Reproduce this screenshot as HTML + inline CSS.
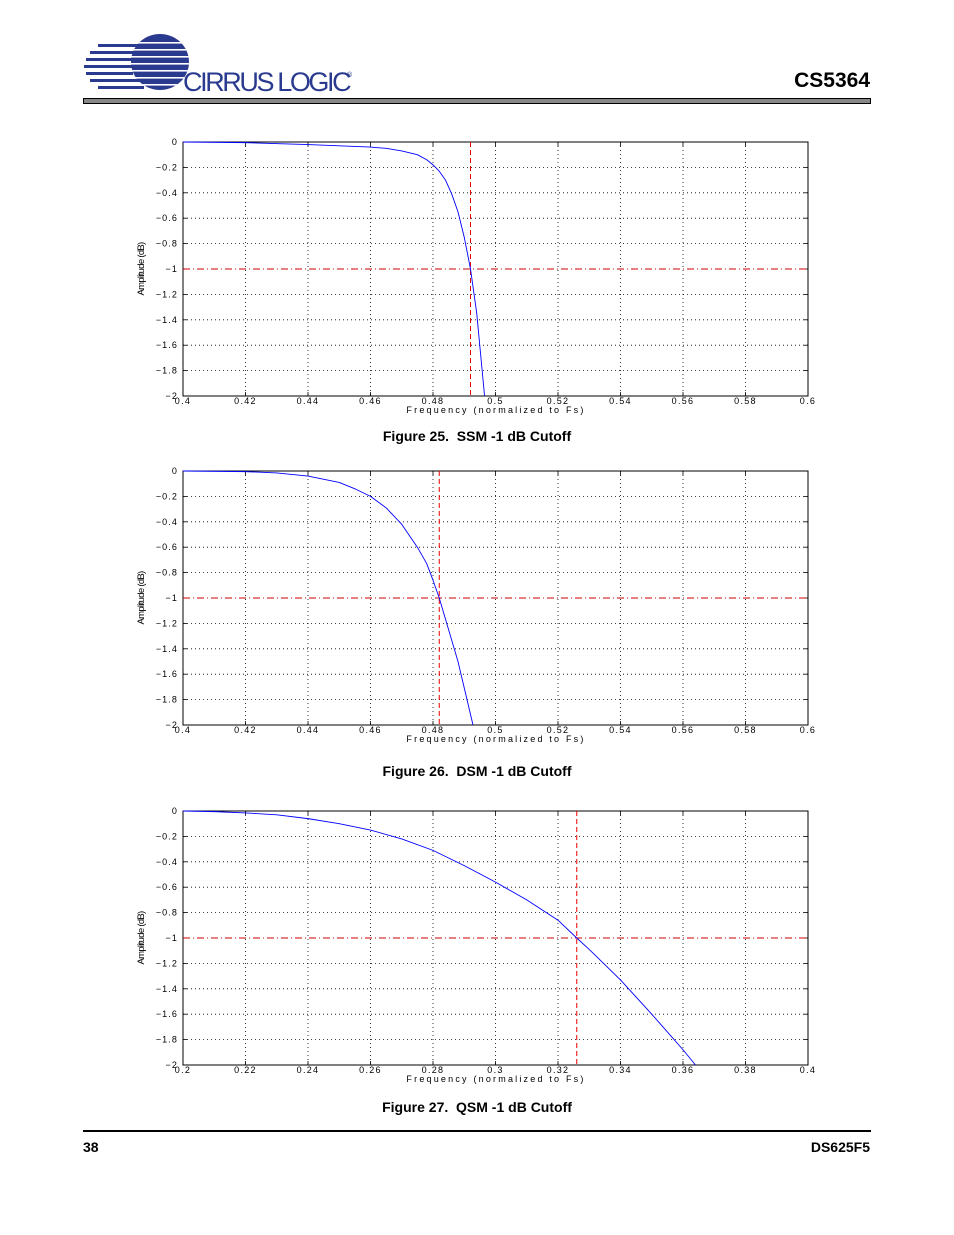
<!DOCTYPE html>
<html><head><meta charset="utf-8">
<style>
html,body{margin:0;padding:0;background:#fff;}
body{width:954px;height:1235px;position:relative;overflow:hidden;font-family:"Liberation Sans",Arial,sans-serif;}
.abs{position:absolute;}
.cap{position:absolute;left:0;width:954px;text-align:center;font-weight:bold;font-size:14px;color:#000;}
</style></head>
<body>
<div class="abs" style="left:84px;top:32px;width:280px;height:64px;">
<svg width="280" height="64">
 <defs><clipPath id="gc"><ellipse cx="76" cy="30" rx="29" ry="28"/></clipPath></defs>
 <ellipse cx="76" cy="30" rx="29" ry="28" fill="#2a3b8f"/>
 <g fill="#fff" clip-path="url(#gc)">
  <rect x="0" y="10" width="110" height="1.6"/><rect x="0" y="17" width="110" height="1.6"/>
  <rect x="0" y="24" width="110" height="1.6"/><rect x="0" y="31" width="110" height="1.6"/>
  <rect x="0" y="38" width="110" height="1.6"/><rect x="0" y="45" width="110" height="1.6"/>
  <rect x="0" y="52" width="110" height="1.6"/>
 </g>
 <g fill="#2a3b8f">
  <rect x="14" y="12" width="40" height="3"/><rect x="6" y="19" width="45" height="3"/>
  <rect x="2" y="26" width="47" height="3"/><rect x="0" y="33" width="48" height="3"/>
  <rect x="2" y="40" width="47" height="3"/><rect x="6" y="47" width="50" height="3"/>
  <rect x="14" y="54" width="46" height="3"/>
 </g>
 <text x="99" y="59" font-size="27" fill="#2a3b8f" font-family="Liberation Sans, sans-serif" letter-spacing="-2.4">CIRRUS LOGIC</text>
 <text x="263" y="45" font-size="7" fill="#2a3b8f">®</text>
</svg></div>
<div class="abs" style="right:84px;top:69px;font-size:21px;font-weight:bold;">CS5364</div>
<div class="abs" style="left:83px;top:98px;width:786px;height:4px;background:#888;border:1px solid #000;"></div>
<div class="abs" style="left:83px;top:1130px;width:788px;height:2px;background:#000;"></div>
<div class="abs" style="left:83px;top:1139px;font-size:14px;font-weight:bold;">38</div>
<div class="abs" style="right:84px;top:1139px;font-size:14px;font-weight:bold;">DS625F5</div>

<svg id="charts" class="abs" style="left:0;top:0" width="954" height="1235"></svg>

<div class="cap" style="top:428px;">Figure 25.&nbsp; SSM -1 dB Cutoff</div>
<div class="cap" style="top:763px;">Figure 26.&nbsp; DSM -1 dB Cutoff</div>
<div class="cap" style="top:1099px;">Figure 27.&nbsp; QSM -1 dB Cutoff</div>

<script>
// Chart 1 (SSM)
const ssmFreq = [0.40,0.42,0.44,0.45,0.46,0.465,0.47,0.475,0.478,0.48,0.482,0.484,0.486,0.488,0.490,0.492,0.494,0.4965];
const ssmDb   = [0,-0.005,-0.02,-0.03,-0.04,-0.05,-0.07,-0.1,-0.14,-0.18,-0.23,-0.3,-0.41,-0.55,-0.75,-1.0,-1.35,-2.0];
const ssmCut = 0.492;
const ssmXTicks = ["0.4","0.42","0.44","0.46","0.48","0.5","0.52","0.54","0.56","0.58","0.6"];
// Chart 2 (DSM)
const dsmFreq = [0.40,0.42,0.43,0.44,0.45,0.455,0.46,0.465,0.47,0.475,0.478,0.48,0.482,0.485,0.488,0.4928];
const dsmDb   = [0,-0.005,-0.015,-0.04,-0.09,-0.14,-0.2,-0.29,-0.42,-0.6,-0.73,-0.86,-1.0,-1.25,-1.5,-2.0];
const dsmCut = 0.482;
const dsmXTicks = ["0.4","0.42","0.44","0.46","0.48","0.5","0.52","0.54","0.56","0.58","0.6"];
// Chart 3 (QSM)
const qsmFreq = [0.20,0.21,0.22,0.23,0.24,0.25,0.26,0.27,0.28,0.29,0.30,0.31,0.32,0.326,0.33,0.34,0.35,0.355,0.36,0.364];
const qsmDb   = [0,-0.005,-0.015,-0.03,-0.06,-0.1,-0.15,-0.22,-0.31,-0.43,-0.56,-0.7,-0.86,-1.0,-1.09,-1.33,-1.6,-1.74,-1.88,-2.0];
const qsmCut = 0.326;
const qsmXTicks = ["0.2","0.22","0.24","0.26","0.28","0.3","0.32","0.34","0.36","0.38","0.4"];
const yTicks = ["0","\u22120.2","\u22120.4","\u22120.6","\u22120.8","\u22121","\u22121.2","\u22121.4","\u22121.6","\u22121.8","\u22122"];

const NS="http://www.w3.org/2000/svg";
const root=document.getElementById('charts');
function mk(tag,attrs,parent){const e=document.createElementNS(NS,tag);for(const k in attrs)e.setAttribute(k,attrs[k]);parent.appendChild(e);return e;}

function drawChart(name,top,xmin,xmax,freq,db,cut,xt){
  const L=183,R=808,T=top,B=top+254;
  const xs=f=>L+(f-xmin)/(xmax-xmin)*(R-L);
  const ys=d=>T+(-d)/2*(B-T);
  const g=mk('g',{},root);
  
  
  for(let i=0;i<xt.length;i++){
    const v=xmin+i*(xmax-xmin)/(xt.length-1);const x=xs(v);
    if(i>0&&i<xt.length-1){const gl=mk('line',{x1:x,x2:x,y1:T,y2:B,stroke:'#000','stroke-width':0.8,'stroke-dasharray':'1 3'},g);
      }
    mk('line',{x1:x,x2:x,y1:B,y2:B-4,stroke:'#000','stroke-width':0.8},g);
    mk('line',{x1:x,x2:x,y1:T,y2:T+4,stroke:'#000','stroke-width':0.8},g);
    const t=mk('text',{x:x,y:B+8,'font-size':9,'text-anchor':'middle','letter-spacing':'1.3','font-family':'Liberation Sans, sans-serif'},g);
    t.textContent=xt[i];
    
  }
  for(let i=0;i<yTicks.length;i++){
    const y=ys(-i*0.2);
    if(i>0&&i<yTicks.length-1&&i!==5){const gl=mk('line',{x1:L,x2:R,y1:y,y2:y,stroke:'#000','stroke-width':0.8,'stroke-dasharray':'1 3'},g);
      }
    mk('line',{x1:L,x2:L+4,y1:y,y2:y,stroke:'#000','stroke-width':0.8},g);
    mk('line',{x1:R,x2:R-4,y1:y,y2:y,stroke:'#000','stroke-width':0.8},g);
    const t=mk('text',{x:178,y:y+3,'font-size':9,'text-anchor':'end','letter-spacing':'1.1','font-family':'Liberation Sans, sans-serif'},g);
    t.textContent=yTicks[i];
    
  }
  const fr=mk('rect',{x:L,y:T,width:R-L,height:B-T,fill:'none',stroke:'#000','stroke-width':1},g);
  
  const h=mk('line',{x1:L,x2:R,y1:ys(-1),y2:ys(-1),stroke:'#cc0000','stroke-width':0.9,'stroke-dasharray':'7 3 1 3'},g);
  
  const v=mk('line',{x1:xs(cut),x2:xs(cut),y1:T,y2:B,stroke:'#ee0000','stroke-width':1,'stroke-dasharray':'5 3'},g);
  
  let d='';for(let i=0;i<freq.length;i++)d+=(i?'L':'M')+xs(freq[i]).toFixed(2)+' '+ys(db[i]).toFixed(2);
  const p=mk('path',{d:d,fill:'none',stroke:'#0000ff','stroke-width':0.9,'stroke-linejoin':'round'},g);
  
  const xl=mk('text',{x:496,y:B+17,'font-size':9,'text-anchor':'middle','letter-spacing':'2.2','font-family':'Liberation Sans, sans-serif'},g);
  xl.textContent='Frequency (normalized to Fs)';
  
  const yl=mk('text',{x:0,y:0,'font-size':9.5,'text-anchor':'middle','letter-spacing':'-0.7','font-family':'Liberation Sans, sans-serif',transform:`translate(144,${(T+B)/2}) rotate(-90)`},g);
  yl.textContent='Amplitude (dB)';
  
}
drawChart('ssm-cutoff-chart',142,0.4,0.6,ssmFreq,ssmDb,ssmCut,ssmXTicks);
drawChart('dsm-cutoff-chart',471,0.4,0.6,dsmFreq,dsmDb,dsmCut,dsmXTicks);
drawChart('qsm-cutoff-chart',811,0.2,0.4,qsmFreq,qsmDb,qsmCut,qsmXTicks);
</script>
</body></html>
